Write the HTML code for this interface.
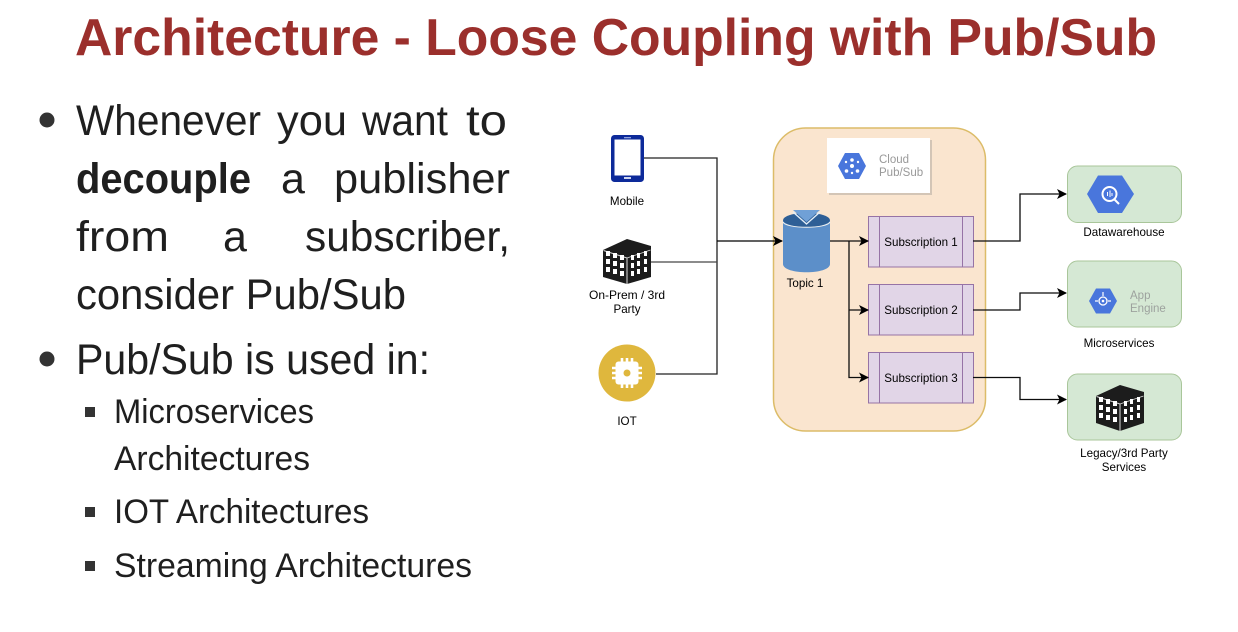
<!DOCTYPE html>
<html><head><meta charset="utf-8"><style>
html,body{margin:0;padding:0;background:#fff;width:1238px;height:632px;overflow:hidden}
svg{display:block}
text{font-family:"Liberation Sans",sans-serif}
.b{font-size:43px;fill:#1f1f1f}
.s{font-size:34px;fill:#1f1f1f}
.d{font-size:11.6px;fill:#000}
</style></head><body>
<svg width="1238" height="632" viewBox="0 0 1238 632" xmlns="http://www.w3.org/2000/svg">
<defs>
<marker id="a" viewBox="0 0 10 10" refX="9" refY="5" markerWidth="10" markerHeight="10" markerUnits="userSpaceOnUse" orient="auto"><path d="M0 0L10 5L0 10L2.5 5Z" fill="#000"/></marker>
<filter id="bl" x="-5%" y="-5%" width="110%" height="110%"><feGaussianBlur stdDeviation="0.3"/></filter>
</defs>
<text x="75" y="55" font-size="52" font-weight="bold" fill="#9b2f2c" textLength="1082" lengthAdjust="spacingAndGlyphs">Architecture - Loose Coupling with Pub/Sub</text>

<circle cx="47" cy="120" r="7.5" fill="#333"/>
<text class="b" x="76" y="135" textLength="185" lengthAdjust="spacingAndGlyphs">Whenever</text>
<text class="b" x="277" y="135" textLength="70" lengthAdjust="spacingAndGlyphs">you</text>
<text class="b" x="362" y="135" textLength="86" lengthAdjust="spacingAndGlyphs">want</text>
<text class="b" x="466" y="135" textLength="41" lengthAdjust="spacingAndGlyphs">to</text>
<text class="b" x="76" y="193" font-weight="bold" textLength="175" lengthAdjust="spacingAndGlyphs">decouple</text>
<text class="b" x="281" y="193">a</text>
<text class="b" x="334" y="193" textLength="176" lengthAdjust="spacingAndGlyphs">publisher</text>
<text class="b" x="76" y="251" textLength="93" lengthAdjust="spacingAndGlyphs">from</text>
<text class="b" x="223" y="251">a</text>
<text class="b" x="305" y="251" textLength="205" lengthAdjust="spacingAndGlyphs">subscriber,</text>
<text class="b" x="76" y="309" textLength="330" lengthAdjust="spacingAndGlyphs">consider Pub/Sub</text>
<circle cx="47" cy="359" r="7.5" fill="#333"/>
<text class="b" x="76" y="374" textLength="354" lengthAdjust="spacingAndGlyphs">Pub/Sub is used in:</text>
<rect x="85" y="407" width="10" height="10" fill="#333"/>
<text class="s" x="114" y="423" textLength="200" lengthAdjust="spacingAndGlyphs">Microservices</text>
<text class="s" x="114" y="470" textLength="196" lengthAdjust="spacingAndGlyphs">Architectures</text>
<rect x="85" y="507" width="10" height="10" fill="#333"/>
<text class="s" x="114" y="523" textLength="255" lengthAdjust="spacingAndGlyphs">IOT Architectures</text>
<rect x="85" y="561" width="10" height="10" fill="#333"/>
<text class="s" x="114" y="577" textLength="358" lengthAdjust="spacingAndGlyphs">Streaming Architectures</text>

<g filter="url(#bl)">
<!-- container -->
<rect x="773.5" y="128" width="212" height="303" rx="32" fill="#fae5cf" stroke="#dcbc68" stroke-width="1.5"/>
<!-- card -->
<rect x="829" y="140" width="103" height="55" fill="#d3c5b6"/>
<rect x="827" y="138" width="103" height="55" fill="#fff"/>
<path d="M838 166L845 153H859L866 166L859 179H845Z" fill="#4a76dc"/>
<g fill="#fff"><circle cx="852" cy="160" r="1.800"/><circle cx="852" cy="166" r="2"/><circle cx="846.500" cy="171" r="1.800"/><circle cx="857.500" cy="171" r="1.800"/><circle cx="846" cy="162" r="1.200"/><circle cx="858" cy="162" r="1.200"/><circle cx="852" cy="173" r="1.200"/></g>
<text x="879" y="163" font-size="11.500" fill="#999">Cloud</text>
<text x="879" y="176" font-size="11.500" fill="#999">Pub/Sub</text>

<!-- phone -->
<rect x="611" y="135" width="33" height="47" rx="3.500" fill="#0a2a9a"/>
<rect x="614.500" y="139.500" width="26" height="36" fill="#fff"/>
<rect x="624" y="137" width="7" height="1.300" fill="#8fa0dc"/>
<rect x="624" y="177" width="7" height="2" fill="#cfd6ef"/>
<text class="d" x="627" y="205" text-anchor="middle">Mobile</text>

<!-- building left -->
<g id="bld">
<path d="M603 250L627 239L651 246V277L627 284L603 277Z" fill="#1c1c1c"/>
<path d="M603.500 250.500L627 258V284" fill="none" stroke="#ddd" stroke-width="1"/>
<path d="M627 258L650.500 250" fill="none" stroke="#ddd" stroke-width="0.800"/>
<g fill="#fff">
<rect x="606" y="251" width="4" height="5"/><rect x="613" y="253" width="4" height="5"/><rect x="620" y="255" width="4" height="5"/>
<rect x="606" y="259" width="4" height="5"/><rect x="613" y="261" width="4" height="5"/><rect x="620" y="263" width="4" height="5"/>
<rect x="606" y="267" width="4" height="5"/><rect x="613" y="269" width="4" height="5"/><rect x="620" y="271" width="4" height="5"/>
<rect x="631" y="255" width="3" height="5"/><rect x="637" y="253" width="3" height="5"/><rect x="644" y="251" width="3" height="5"/>
<rect x="631" y="263" width="3" height="5"/><rect x="637" y="261" width="3" height="5"/><rect x="644" y="259" width="3" height="5"/>
<rect x="631" y="271" width="3" height="5"/><rect x="637" y="269" width="3" height="5"/><rect x="644" y="267" width="3" height="5"/>
</g>
</g>
<text class="d" x="627" y="299" text-anchor="middle" style="font-size:12px">On-Prem / 3rd</text>
<text class="d" x="627" y="313" text-anchor="middle">Party</text>

<!-- IOT -->
<circle cx="627" cy="373" r="28.500" fill="#dfb73e"/>
<g stroke="#fff" stroke-width="2.600"><path d="M622 358V388M627 358V388M632 358V388M612 368H642M612 373H642M612 378H642"/></g>
<rect x="615.500" y="361.500" width="23" height="23" rx="3" fill="#fff"/>
<circle cx="627" cy="373" r="3.500" fill="#dfb73e"/>
<text class="d" x="627" y="425" text-anchor="middle">IOT</text>

<!-- left connectors -->
<g fill="none" stroke-width="1.300">
<path d="M644 158H717V374H656" stroke="#222"/>
<path d="M651 262H717" stroke="#444"/>
<path d="M717 241H782" stroke="#000" marker-end="url(#a)"/>
</g>

<!-- cylinder -->
<path d="M783 220V264C783 275 830 275 830 264V220Z" fill="#5b8fc9"/>
<ellipse cx="806.500" cy="220" rx="23.500" ry="7" fill="#2f5f96"/>
<path d="M793 210H820L806.500 222Z" fill="#6fa0d6"/>
<path d="M793 212L806.500 224L820 212" fill="none" stroke="#e3eef8" stroke-width="1.400"/>
<path d="M783 222C786 229 827 229 830 222" fill="none" stroke="#f1f1ee" stroke-width="1"/>
<text class="d" x="805" y="287" text-anchor="middle">Topic 1</text>

<!-- subscriptions -->
<g fill="#e1d5e7" stroke="#9673a6" stroke-width="1">
<rect x="868.500" y="216.500" width="105" height="50.500"/><path d="M879.500 216.500V267M962.500 216.500V267" fill="none"/>
<rect x="868.500" y="284.500" width="105" height="50.500"/><path d="M879.500 284.500V335M962.500 284.500V335" fill="none"/>
<rect x="868.500" y="352.500" width="105" height="50.500"/><path d="M879.500 352.500V403M962.500 352.500V403" fill="none"/>
</g>
<text class="d" x="921" y="246" text-anchor="middle">Subscription 1</text>
<text class="d" x="921" y="314" text-anchor="middle">Subscription 2</text>
<text class="d" x="921" y="382" text-anchor="middle">Subscription 3</text>

<!-- inner connectors -->
<g fill="none" stroke="#111" stroke-width="1.300">
<path d="M830 241H868" marker-end="url(#a)"/>
<path d="M849 241V377.500H868" marker-end="url(#a)"/>
<path d="M849 310H868" marker-end="url(#a)"/>
</g>

<!-- green boxes -->
<g fill="#d5e8d4" stroke="#a9c69a" stroke-width="1">
<rect x="1067.500" y="166" width="114" height="56.500" rx="10"/>
<rect x="1067.500" y="261" width="114" height="66" rx="10"/>
<rect x="1067.500" y="374" width="114" height="66" rx="10"/>
</g>

<!-- right connectors -->
<g fill="none" stroke="#111" stroke-width="1.300">
<path d="M973 241H1020V194H1066" marker-end="url(#a)"/>
<path d="M973 310H1020V293H1066" marker-end="url(#a)"/>
<path d="M973 377.500H1020V399.500H1066" marker-end="url(#a)"/>
</g>

<!-- BigQuery -->
<path d="M1087 194L1098 175.500H1122L1134 194L1122 213H1098Z" fill="#4a76dc"/>
<circle cx="1109.500" cy="194" r="7" fill="none" stroke="#fff" stroke-width="2"/>
<path d="M1114 199L1119 204" stroke="#fff" stroke-width="2"/>
<path d="M1107.500 192V196M1110 190.500V197M1112 193V196" stroke="#fff" stroke-width="1"/>
<text class="d" x="1124" y="236" text-anchor="middle">Datawarehouse</text>

<!-- App Engine -->
<path d="M1089 301L1096 288.500H1110L1117 301L1110 313.500H1096Z" fill="#4a76dc"/>
<circle cx="1103" cy="301" r="4" fill="none" stroke="#fff" stroke-width="1.300"/>
<circle cx="1103" cy="301" r="1.300" fill="#fff"/>
<path d="M1095 301H1098M1108 301H1111M1103 292V296" stroke="#fff" stroke-width="1.200"/>
<text x="1130" y="299" font-size="11.500" fill="#9da29e">App</text>
<text x="1130" y="312" font-size="11.500" fill="#9da29e">Engine</text>
<text class="d" x="1119" y="347" text-anchor="middle">Microservices</text>

<!-- building right -->
<g transform="translate(1096,385)">
<path d="M0 11L24 0L48 7V38L24 46L0 38Z" fill="#1c1c1c"/>
<path d="M0.500 11.500L24 19V46" fill="none" stroke="#ddd" stroke-width="1"/>
<path d="M24 19L47.500 11" fill="none" stroke="#ddd" stroke-width="0.800"/>
<g fill="#fff">
<rect x="3" y="12" width="4" height="5"/><rect x="10" y="14" width="4" height="5"/><rect x="17" y="16" width="4" height="5"/>
<rect x="3" y="20" width="4" height="5"/><rect x="10" y="22" width="4" height="5"/><rect x="17" y="24" width="4" height="5"/>
<rect x="3" y="28" width="4" height="5"/><rect x="10" y="30" width="4" height="5"/><rect x="17" y="32" width="4" height="5"/>
<rect x="28" y="16" width="3" height="5"/><rect x="34" y="14" width="3" height="5"/><rect x="41" y="12" width="3" height="5"/>
<rect x="28" y="24" width="3" height="5"/><rect x="34" y="22" width="3" height="5"/><rect x="41" y="20" width="3" height="5"/>
<rect x="28" y="32" width="3" height="5"/><rect x="34" y="30" width="3" height="5"/><rect x="41" y="28" width="3" height="5"/>
</g>
</g>
<text class="d" x="1124" y="457" text-anchor="middle">Legacy/3rd Party</text>
<text class="d" x="1124" y="471" text-anchor="middle">Services</text>
</g>
</svg>
</body></html>
